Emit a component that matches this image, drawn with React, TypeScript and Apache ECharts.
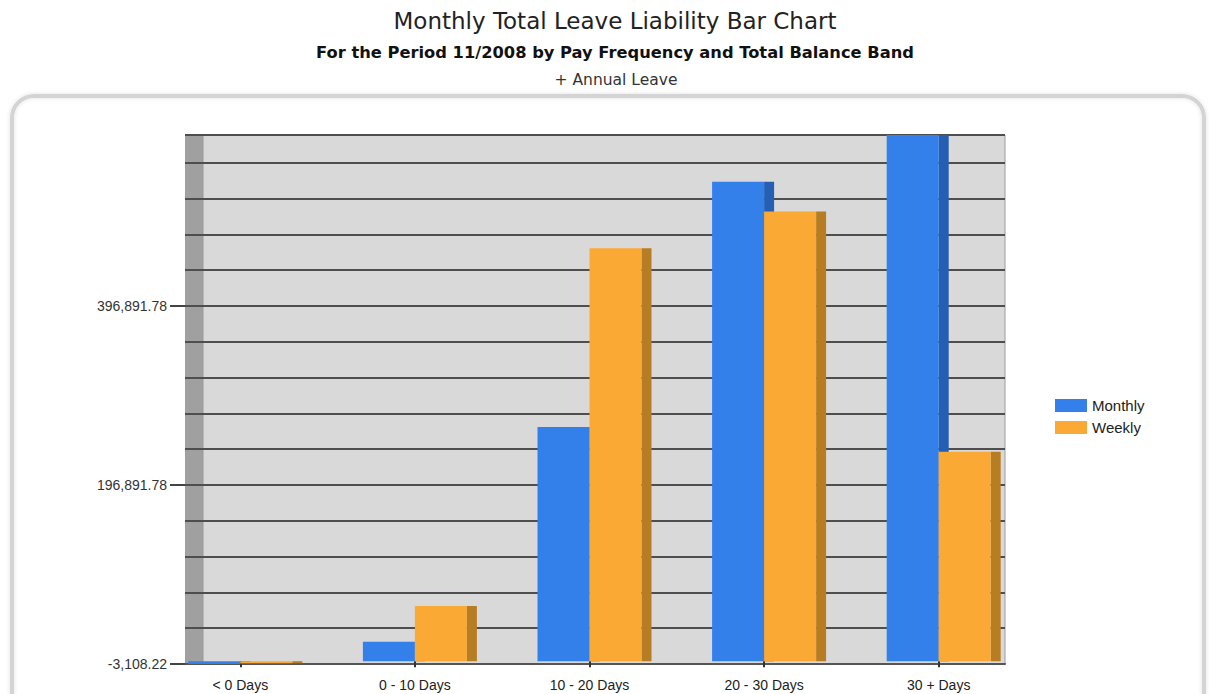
import React, { useEffect, useRef } from "react";
import * as echarts from "echarts";

const categories = ["< 0 Days", "0 - 10 Days", "10 - 20 Days", "20 - 30 Days", "30 + Days"];
const monthly = [-3108.22, 21800, 261700, 535800, 587900];
const weekly = [-2300, 61700, 461400, 502300, 234100];
const yMin = -3108.22;
const yMax = 587900;
const gridStep = 40000;
const labelStep = 200000;
const labelValues = [-3108.22, 196891.78, 396891.78];

const BLUE = "#3480ea";
const BLUE_SIDE = "#245fb4";
const ORANGE = "#fba935";
const ORANGE_SIDE = "#b77d23";
const BW = 52;
const DEPTH = 10;

const fmt = (v: number) =>
  v.toLocaleString("en-US", { minimumFractionDigits: 2, maximumFractionDigits: 2 });

const isLabelValue = (v: number) => labelValues.some((l) => Math.abs(l - v) < 0.5);

function makeRender(isMonthly: boolean) {
  return (params: any, api: any) => {
    const i = api.value(0);
    const v = api.value(1);
    const top = api.coord([i, v]);
    const base = api.coord([i, 0]);
    const cx = top[0];
    const x0 = isMonthly ? cx - BW : cx;
    const y1 = Math.min(top[1], base[1]);
    const h = Math.max(Math.abs(base[1] - top[1]), 1);
    return {
      type: "group",
      children: [
        {
          type: "rect",
          shape: { x: x0 + BW, y: y1, width: DEPTH, height: h },
          style: { fill: isMonthly ? BLUE_SIDE : ORANGE_SIDE },
        },
        {
          type: "rect",
          shape: { x: x0, y: y1, width: BW, height: h },
          style: { fill: isMonthly ? BLUE : ORANGE },
        },
      ],
    };
  };
}

export default function App() {
  const ref = useRef<HTMLDivElement>(null);
  useEffect(() => {
    document.body.style.margin = "0";
    const chart = echarts.init(ref.current!, undefined, { renderer: "svg" });
    const splitLine = { show: true, lineStyle: { color: "#4e4e4e", width: 2 } };
    const hiddenY = {
      type: "value" as const,
      position: "left" as const,
      min: yMin,
      max: yMax,
      interval: gridStep,
      axisLine: { show: false },
      axisTick: { show: false },
      axisLabel: { show: false },
    };
    chart.setOption({
      animation: false,
      backgroundColor: "#ffffff",
      grid: [
        { left: 185, width: 18, top: 135, bottom: 30, show: true, backgroundColor: "#a0a0a0", borderWidth: 0 },
        { left: 203, right: 204, top: 135, bottom: 30, show: true, backgroundColor: "#d9d9d9", borderColor: "#9a9a9a", borderWidth: 1 },
        { left: 153, right: 183, top: 135, bottom: 30 },
      ],
      xAxis: [
        {
          gridIndex: 0, type: "value", min: 0, max: 1,
          axisLine: { show: true, onZero: false, lineStyle: { color: "#555", width: 2 } },
          axisTick: { show: false }, axisLabel: { show: false }, splitLine: { show: false },
        },
        {
          gridIndex: 1, type: "value", min: 0, max: 1,
          axisLine: { show: true, onZero: false, lineStyle: { color: "#555", width: 2 } },
          axisTick: { show: false }, axisLabel: { show: false }, splitLine: { show: false },
        },
        {
          gridIndex: 2, type: "category", data: categories,
          axisLine: { show: false },
          axisTick: { show: true, alignWithLabel: true, length: 6, lineStyle: { color: "#333", width: 2 } },
          axisLabel: { color: "#222", fontFamily: "Liberation Sans", fontSize: 14, margin: 14 },
        },
      ],
      yAxis: [
        { ...hiddenY, gridIndex: 0, splitLine },
        {
          gridIndex: 0, type: "value", position: "left", min: yMin, max: yMax, interval: labelStep,
          axisLine: { show: true, lineStyle: { color: "rgba(0,0,0,0)", width: 0 } },
          splitLine: { show: false },
          axisTick: { show: true, inside: false, length: 15, customValues: labelValues, lineStyle: { color: "#444", width: 2 } },
          axisLabel: {
            show: true, customValues: labelValues, margin: 18,
            color: "#333", fontFamily: "Liberation Sans", fontSize: 14,
            formatter: (v: number) => (isLabelValue(v) ? fmt(v) : ""),
          },
        },
        { ...hiddenY, gridIndex: 1, splitLine },
        { ...hiddenY, gridIndex: 2, splitLine: { show: false } },
      ],
      legend: {
        orient: "vertical",
        left: 1050,
        top: 393,
        itemWidth: 32,
        itemHeight: 13,
        itemGap: 7,
        icon: "rect",
        data: ["Monthly", "Weekly"],
        textStyle: { color: "#222", fontFamily: "Liberation Sans", fontSize: 15 },
      },
      series: [
        {
          name: "Monthly", type: "custom", xAxisIndex: 2, yAxisIndex: 3,
          itemStyle: { color: BLUE },
          encode: { x: 0, y: 1 },
          data: monthly.map((v, i) => [i, v]),
          renderItem: makeRender(true),
        },
        {
          name: "Weekly", type: "custom", xAxisIndex: 2, yAxisIndex: 3,
          itemStyle: { color: ORANGE },
          encode: { x: 0, y: 1 },
          data: weekly.map((v, i) => [i, v]),
          renderItem: makeRender(false),
        },
      ],
      graphic: [
        {
          type: "rect", silent: true,
          shape: { x: 12, y: 96, width: 1192, height: 700, r: 22 },
          style: { fill: "none", stroke: "#d4d4d4", lineWidth: 4, shadowBlur: 4, shadowColor: "rgba(0,0,0,0.12)" },
        },
        {
          type: "text", x: 615, y: 21,
          style: { text: "Monthly Total Leave Liability Bar Chart", textAlign: "center", textVerticalAlign: "middle", fill: "#222", font: "23px 'DejaVu Sans'" },
        },
        {
          type: "text", x: 615, y: 52,
          style: { text: "For the Period 11/2008 by Pay Frequency and Total Balance Band", textAlign: "center", textVerticalAlign: "middle", fill: "#111", font: "bold 16.3px 'DejaVu Sans'" },
        },
        {
          type: "text", x: 616, y: 80,
          style: { text: "+ Annual Leave", textAlign: "center", textVerticalAlign: "middle", fill: "#333", font: "15.5px 'DejaVu Sans'" },
        },
      ],
    });
    return () => chart.dispose();
  }, []);
  return <div ref={ref} style={{ position: "absolute", left: 0, top: 0, width: 1209, height: 694 }} />;
}
